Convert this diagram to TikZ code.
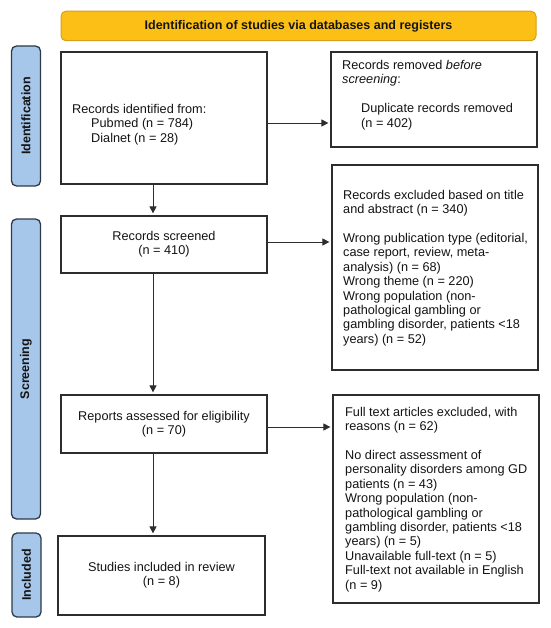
\documentclass[tikz,border=0pt]{standalone}
\usepackage{fontspec}
\setmainfont{Liberation Sans}
\usetikzlibrary{arrows.meta}
\definecolor{bannerfill}{RGB}{251,191,22}
\definecolor{bannerdraw}{RGB}{214,160,25}
\definecolor{sidefill}{RGB}{166,198,234}
\definecolor{sidedraw}{RGB}{45,58,74}
\definecolor{linegray}{RGB}{45,45,45}
\begin{document}
\begin{tikzpicture}[x=1pt,y=-1pt,
  every node/.style={font=\fontsize{12.7}{14.4}\selectfont, text=black!92},
  box/.style={draw=linegray, line width=1.2pt, fill=white, inner sep=0pt, minimum width=206pt},
  cbox/.style={box, align=center},
  banner/.style={draw=bannerdraw, fill=bannerfill, line width=1pt, rounded corners=5pt, font=\fontsize{12.5}{14.4}\selectfont\bfseries},
  side/.style={draw=sidedraw, fill=sidefill, line width=1.3pt, rounded corners=5pt, rotate=90, minimum height=29pt, inner sep=0pt, font=\fontsize{12.5}{14.4}\selectfont\bfseries},
  txt/.style={inner sep=0pt, align=left, anchor=west},
  arr/.style={draw=linegray, line width=0.9pt, -{Triangle[length=7pt,width=7pt]}, shorten >=2pt}
]
\useasboundingbox (0,0) rectangle (550,628);

% banner
\node[banner, minimum width=475pt, minimum height=29.5pt] (title) at (298.5,26) {Identification of studies via databases and registers};

% side bars
\node[side, minimum width=140pt] (sideid) at (26,116) {Identification};
\node[side, minimum width=300pt] (sidescr) at (26,369) {Screening};
\node[side, minimum width=84pt] (sideinc) at (26.5,575) {Included};

% boxes
\node[box, minimum height=132pt] (ident) at (164,118) {};
\node[txt] (identtxt) at (72,124.5) {Records identified from:\\\hspace*{19pt}Pubmed (n = 784)\\\hspace*{19pt}Dialnet (n = 28)};

\node[box, minimum height=95pt] (removed) at (434,99.5) {};
\node[txt] (removedtxt) at (342,95) {Records removed \textit{before}\\\textit{screening}:\\[14.4pt]\hspace*{19pt}Duplicate records removed\\\hspace*{19pt}(n = 402)};

\node[cbox, minimum height=57pt] (screened) at (164,244.5) {Records screened\\(n = 410)};

\node[box, minimum height=205pt] (excluded) at (435,267.5) {};
\node[txt] (excludedtxt) at (343,268) {Records excluded based on title\\and abstract (n = 340)\\[14.4pt]Wrong publication type (editorial,\\case report, review, meta-\\analysis) (n = 68)\\Wrong theme (n = 220)\\Wrong population (non-\\pathological gambling or\\gambling disorder, patients {<}18\\years) (n = 52)};

\node[cbox, minimum height=58pt] (reports) at (164,424) {Reports assessed for eligibility\\(n = 70)};

\node[box, minimum height=208pt] (fulltext) at (436,499) {};
\node[txt] (fulltexttxt) at (345,499.5) {Full text articles excluded, with\\reasons (n = 62)\\[14.4pt]No direct assessment of\\personality disorders among GD\\patients (n = 43)\\Wrong population (non-\\pathological gambling or\\gambling disorder, patients {<}18\\years) (n = 5)\\Unavailable full-text (n = 5)\\Full-text not available in English\\(n = 9)};

\node[cbox, minimum width=207pt, minimum height=79pt] (included) at (161.5,575.5) {Studies included in review\\(n = 8)};

% connectors
\coordinate (vx) at (153,0);
\coordinate (h1) at (0,123);
\coordinate (h2) at (0,242);
\coordinate (h3) at (0,427);
\draw[arr] (ident.south -| vx) -- (screened.north -| vx);
\draw[arr] (screened.south -| vx) -- (reports.north -| vx);
\draw[arr] (reports.south -| vx) -- (included.north -| vx);
\draw[arr] (ident.east |- h1) -- (removed.west |- h1);
\draw[arr] (screened.east |- h2) -- (excluded.west |- h2);
\draw[arr] (reports.east |- h3) -- (fulltext.west |- h3);
\end{tikzpicture}
\end{document}
